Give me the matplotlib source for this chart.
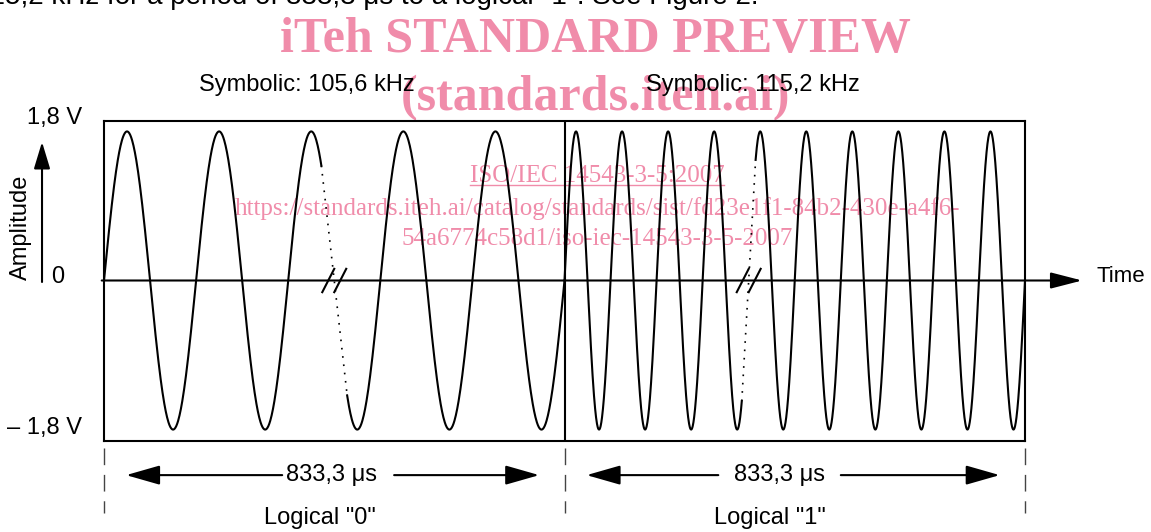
import numpy as np
import matplotlib
matplotlib.use('Agg')
import matplotlib.pyplot as plt
from matplotlib.lines import Line2D

# symbolic FSK picture: one bit period per logical value
bit_labels = ['Logical "0"', 'Logical "1"']
freq_labels = ['Symbolic: 105,6 kHz', 'Symbolic: 115,2 kHz']
cycles_per_bit = [5, 10]        # cycles drawn per bit (symbolic)
break_cycle = [2.5, 4.0]        # zero crossing where the "//" break sits
break_half = [0.14, 0.15]       # half width of the dotted gap, in cycles
amplitude = 1.8
duration_label = '833,3 \u03bcs'
y_labels = ['1,8 V', '0', '\u2013 1,8 V']
top_line = '115,2 kHz for a period of 833,3 \u03bcs to a logical "1". See Figure 2.'

PINK = '#F08CAA'
SANS = 'Liberation Sans'
SERIF = 'Liberation Serif'
plt.rcParams['font.family'] = SANS

W, H = 1151, 532
fig = plt.figure(figsize=(W / 100, H / 100), dpi=100)
ax = fig.add_axes([104 / W, 91 / H, 921 / W, 320 / H])
ax.set_xlim(0, 2)
ax.set_ylim(-1.938, 1.926)
ax.set_xticks([])
ax.set_yticks([])
ax.patch.set_alpha(0)
for s in ax.spines.values():
    s.set_linewidth(1.5)

# waveform
for i, cyc in enumerate(cycles_per_bit):
    c = np.linspace(0, cyc, cyc * 200 + 1)
    y = amplitude * np.sin(2 * np.pi * c)
    t = i + c / cyc
    a, b = break_cycle[i] - break_half[i], break_cycle[i] + break_half[i]
    m1, m2 = c <= a, c >= b
    ax.plot(t[m1], y[m1], color='black', lw=1.5)
    ax.plot(t[m2], y[m2], color='black', lw=1.5)
    ya, yb = amplitude * np.sin(2 * np.pi * a), amplitude * np.sin(2 * np.pi * b)
    ax.plot([i + a / cyc, i + b / cyc], [ya, yb], color='black', lw=1.2,
            linestyle=(0, (1, 4)))
    # break marks
    xc = i + break_cycle[i] / cyc
    for off in (-0.013, 0.013):
        ax.plot([xc + off - 0.013, xc + off + 0.013], [-0.141, 0.141],
                color='black', lw=1.5, clip_on=False)

# divider between the two bits
ax.axvline(1, color='black', lw=1.5)


def arrow(x0, y0, x1, y1, hl, hw):
    ax.annotate('', xy=(x1, y1), xytext=(x0, y0), annotation_clip=False,
                arrowprops=dict(arrowstyle=f'-|>,head_length={hl},head_width={hw}',
                                mutation_scale=10, lw=1.5, color='black',
                                shrinkA=0, shrinkB=0))


# time axis and amplitude arrow
arrow(-0.005, 0, 2.124, 0, 1.94, 0.5)
ax.text(2.156, 0.05, 'Time', fontsize=16, ha='left', va='center')
arrow(-0.1346, -0.018, -0.1346, 1.673, 1.65, 0.5)
ax.text(-0.180, 0.64, 'Amplitude', fontsize=17, rotation=90, ha='center', va='center')
ax.text(-0.0478, 1.963, y_labels[0], fontsize=17, ha='right', va='center')
ax.text(-0.101, 0.042, y_labels[1], fontsize=17, ha='center', va='center')
ax.text(-0.0478, -1.782, y_labels[2], fontsize=17, ha='right', va='center')

# labels above and dimension lines below
freq_x = [0.206, 0.178]
inner = [(0.387, 0.63), (0.334, 0.60)]
dur_x = [0.493, 0.466]
logic_x = [0.469, 0.445]
for i in range(2):
    ax.text(i + freq_x[i], 2.362, freq_labels[i], fontsize=17, ha='left', va='center')
    arrow(i + inner[i][0], -2.35, i + 0.048, -2.35, 2.1, 0.6)
    arrow(i + inner[i][1], -2.35, i + 0.945, -2.35, 2.1, 0.6)
    ax.text(i + dur_x[i], -2.35, duration_label, fontsize=17, ha='center', va='center')
    ax.text(i + logic_x[i], -2.869, bit_labels[i], fontsize=17, ha='center', va='center')
for xb in range(3):
    ax.plot([xb, xb], [-2.023, -2.809], color='#444444', lw=1,
            linestyle=(0, (12, 7)), clip_on=False)

# cut-off sentence at the top of the page
fig.text(-24 / W, 1 - 4 / H, top_line, fontsize=20, ha='left', va='baseline')

# watermark
fig.text(595.5 / W, 1 - 52 / H, 'iTeh STANDARD PREVIEW', fontsize=36, family=SERIF,
         weight='bold', color=PINK, ha='center', va='baseline', zorder=-1)
fig.text(596 / W, 1 - 110 / H, '(standards.iteh.ai)', fontsize=36, family=SERIF,
         weight='bold', color=PINK, ha='center', va='baseline', zorder=-1)
iso = fig.text(597 / W, 1 - 182 / H, 'ISO/IEC 14543-3-5:2007', fontsize=18, family=SERIF,
               color=PINK, ha='center', va='baseline', zorder=-1)
fig.text(597 / W, 1 - 215 / H,
         'https://standards.iteh.ai/catalog/standards/sist/fd23e1f1-84b2-430e-a4f6-',
         fontsize=18, family=SERIF, color=PINK, ha='center', va='baseline', zorder=-1)
fig.text(597 / W, 1 - 245 / H, '54a6774c58d1/iso-iec-14543-3-5-2007', fontsize=18,
         family=SERIF, color=PINK, ha='center', va='baseline', zorder=-1)

fig.canvas.draw()
bb = iso.get_window_extent()
yu = 1 - 185 / H
fig.add_artist(Line2D([bb.x0 / W, bb.x1 / W], [yu, yu], color=PINK, lw=1, zorder=-1))

fig.savefig('out.png', dpi=100)
